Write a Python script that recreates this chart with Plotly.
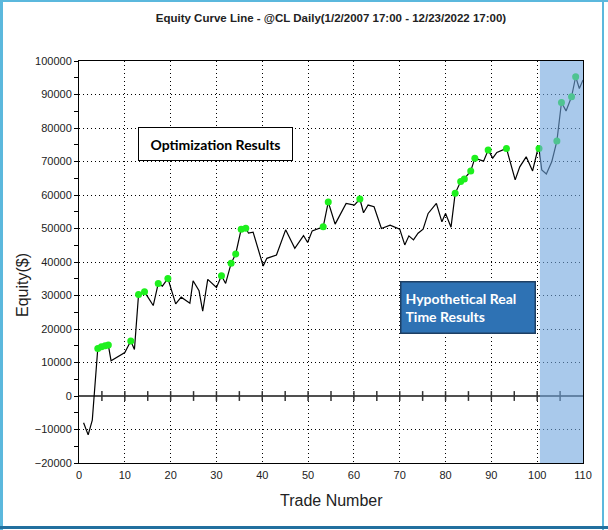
import plotly.graph_objects as go

# -----------------------------
# data
# -----------------------------
trade = [1, 2, 2.9, 4.1, 4.9, 5.7, 6.4, 7.0, 10.0, 11.3, 12.1, 13.0, 14.3, 16.2,
         17.3, 18.2, 19.4, 21.1, 22.3, 24.2, 24.9, 26.2, 27.0, 28.1, 30.0, 31.1,
         32.0, 33.2, 34.2, 35.4, 36.4, 37.0, 38.0, 40.2, 41.0, 43.1, 45.1, 47.1,
         49.0, 49.9, 50.9, 53.3, 54.4, 55.9, 58.3, 60.1, 61.3, 62.1, 63.1, 64.4,
         66.0, 67.9, 70.0, 71.1, 72.0, 73.0, 74.0, 75.1, 76.2, 78.0, 79.2, 80.0,
         81.2, 82.1, 83.3, 84.1, 85.5, 86.4, 88.3, 89.3, 90.3, 91.2, 93.3, 95.2,
         96.2, 97.6, 99.0, 100.0, 100.4, 101.0, 102.0, 103.2, 104.3, 105.3, 106.3,
         107.5, 108.4, 109.2, 110.0]
equity = [-8000, -11600, -7200, 14200, 14700, 15000, 15200, 10500, 13000, 16400,
          13900, 30300, 31100, 27000, 33600, 32800, 35100, 27500, 29500, 27700,
          34400, 31400, 25300, 34800, 32400, 35900, 33600, 39600, 42400, 49800,
          50100, 48600, 48900, 38800, 41100, 42100, 49600, 44100, 47900, 45800,
          49300, 50500, 57900, 51300, 57500, 57000, 58800, 54700, 57000, 56500,
          50000, 51000, 49800, 45100, 47800, 46600, 48600, 49800, 54500, 57500,
          52000, 54500, 50400, 60500, 64000, 64800, 67200, 71000, 70100, 73400,
          71000, 72700, 73900, 64500, 68400, 71400, 67200, 72900, 73900, 67500,
          66300, 70000, 76100, 87600, 85100, 89300, 95300, 91800, 94300]

# new-high trades (green dots)
high_trade = [4.1, 4.9, 5.7, 6.4, 11.3, 13.0, 14.3, 17.3, 19.4, 31.1, 33.2, 34.2,
              35.4, 36.4, 53.3, 54.4, 61.3, 82.1, 83.3, 84.1, 85.5, 86.4, 89.3,
              93.3, 100.4, 104.3, 105.3, 107.5, 108.4]
high_equity = [14200, 14700, 15000, 15200, 16400, 30300, 31100, 33600, 35100,
               35900, 39600, 42400, 49800, 50100, 50500, 57900, 58800, 60500,
               64000, 64800, 67200, 71000, 73400, 73900, 73900, 76100, 87600,
               89300, 95300]

real_time_start = 100.6
x_ticks = list(range(0, 111, 10))
zero_ticks = list(range(5, 110, 5))

title = "Equity Curve Line - @CL Daily(1/2/2007 17:00 - 12/23/2022 17:00)"

# plot area in pixels: x 79..583, y 61..463
L, R, T, B = 79, 25, 61, 67
W_PLOT, H_PLOT = 608 - L - R, 530 - T - B


def px(p):
    return (p - L) / W_PLOT


def py(p):
    return (530 - B - p) / H_PLOT


fig = go.Figure()

fig.add_trace(go.Scatter(
    x=trade, y=equity, mode="lines",
    line=dict(color="black", width=1.2),
    hoverinfo="skip",
))

fig.add_trace(go.Scatter(
    x=high_trade, y=high_equity, mode="markers",
    marker=dict(color="#1EF01E", size=7),
    hoverinfo="skip",
))

# ticks drawn along the zero line
fig.add_trace(go.Scatter(
    x=zero_ticks, y=[0] * len(zero_ticks), mode="markers",
    marker=dict(symbol="line-ns", size=7, line=dict(width=1.5, color="#333333")),
    hoverinfo="skip",
))

shapes = [
    # hypothetical real time shading
    dict(type="rect", xref="x", yref="y", x0=real_time_start, x1=110,
         y0=-20000, y1=100000, fillcolor="rgb(112,165,222)", opacity=0.6,
         line=dict(width=0), layer="above"),
    # outer picture frame
    dict(type="line", xref="paper", yref="paper", x0=px(1.5), x1=px(1.5),
         y0=py(0), y1=py(530), line=dict(color="#5BB8DD", width=3)),
    dict(type="line", xref="paper", yref="paper", x0=px(0), x1=px(608),
         y0=py(1), y1=py(1), line=dict(color="#5BB8DD", width=2)),
    dict(type="line", xref="paper", yref="paper", x0=px(603), x1=px(603),
         y0=py(0), y1=py(530), line=dict(color="#5BB8DD", width=2)),
    dict(type="line", xref="paper", yref="paper", x0=px(0), x1=px(608),
         y0=py(527.5), y1=py(527.5), line=dict(color="#22709F", width=3)),
]

annotations = [
    dict(text="Optimization Results", xref="paper", yref="paper",
         x=px(215.5), y=py(144), xanchor="center", yanchor="middle", showarrow=False,
         font=dict(family="Lato", size=14, color="black", weight="bold"),
         bgcolor="white", bordercolor="black", borderwidth=1, borderpad=4,
         width=145, height=24),
    dict(text="Hypothetical Real<br>Time Results", xref="paper", yref="paper",
         x=px(468), y=py(307.5), xanchor="center", yanchor="middle",
         showarrow=False, align="left",
         font=dict(family="Lato", size=14, color="white", weight="bold"),
         bgcolor="#2E72B4", bordercolor="#1E3F63", borderwidth=1.5, borderpad=4,
         width=125, height=42),
    dict(text="Equity($)", xref="paper", yref="paper", x=px(22), y=py(285),
         xanchor="center", yanchor="middle", textangle=-90, showarrow=False,
         font=dict(family="Liberation Sans", size=16, color="#222222")),
    dict(text="Trade Number", xref="paper", yref="paper", x=px(331), y=py(501),
         xanchor="center", yanchor="middle", showarrow=False,
         font=dict(family="Liberation Sans", size=16, color="#222222")),
]

fig.update_layout(
    width=608, height=530,
    margin=dict(l=L, r=R, t=T, b=B),
    paper_bgcolor="white", plot_bgcolor="white",
    showlegend=False,
    title=dict(text=title, x=0.5, xref="paper", xanchor="center",
               y=1 - 18 / 530, yanchor="middle",
               font=dict(family="Liberation Sans", size=11.5,
                         color="#222222", weight="bold")),
    font=dict(family="Liberation Sans", size=11, color="#222222"),
    shapes=shapes,
    annotations=annotations,
)

fig.update_xaxes(
    range=[0, 110], tickvals=x_ticks,
    showline=True, linecolor="black", linewidth=1, mirror=True,
    showgrid=True, gridcolor="black", griddash="1px,3px", gridwidth=1,
    zeroline=False,
    ticks="outside", ticklen=2, tickcolor="rgba(0,0,0,0)",
)

fig.update_yaxes(
    range=[-20000, 100000], dtick=10000, tickformat="d",
    showline=True, linecolor="black", linewidth=1, mirror=True,
    showgrid=True, gridcolor="black", griddash="1px,3px", gridwidth=1,
    zeroline=True, zerolinecolor="#505050", zerolinewidth=2,
    ticks="outside", ticklen=4, tickcolor="black",
    minor=dict(dtick=5000, ticks="outside", ticklen=4, tickcolor="black", showgrid=False),
)

fig.write_html("out.html", config={"displayModeBar": False},
               post_script="document.body.style.margin='0';")
